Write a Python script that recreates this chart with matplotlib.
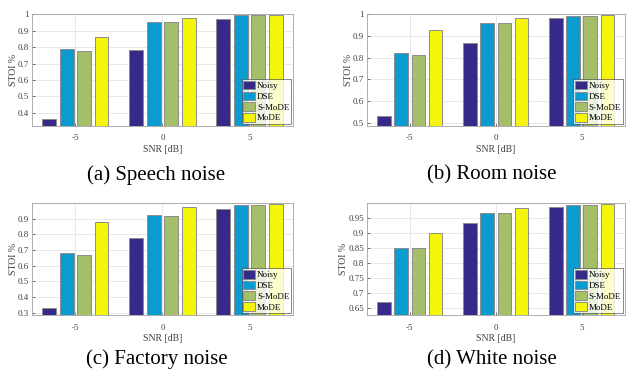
import matplotlib
matplotlib.use("Agg")
import matplotlib.pyplot as plt
from matplotlib.ticker import FuncFormatter

plt.rcParams['font.family'] = ['Liberation Serif', 'DejaVu Serif']

snr = ["-5", "0", "5"]
methods = ["Noisy", "DSE", "S-MoDE", "MoDE"]
colors = ["#352a87", "#0a9bd0", "#a5be6a", "#f5f50a"]

# STOI values per panel, one list per method (order: -5, 0, 5 dB)
speech = [[0.365, 0.785, 0.970],
          [0.790, 0.952, 0.992],
          [0.778, 0.951, 0.993],
          [0.860, 0.975, 0.994]]
room = [[0.530, 0.868, 0.982],
        [0.820, 0.958, 0.993],
        [0.810, 0.958, 0.993],
        [0.928, 0.982, 0.996]]
factory = [[0.330, 0.775, 0.965],
           [0.680, 0.922, 0.985],
           [0.665, 0.920, 0.985],
           [0.882, 0.978, 0.995]]
white = [[0.670, 0.933, 0.988],
         [0.850, 0.967, 0.992],
         [0.850, 0.967, 0.992],
         [0.900, 0.982, 0.996]]

panels = [
    (speech, "(a) Speech noise", (0.32, 1.0), [0.4, 0.5, 0.6, 0.7, 0.8, 0.9, 1.0]),
    (room, "(b) Room noise", (0.485, 1.0), [0.5, 0.6, 0.7, 0.8, 0.9, 1.0]),
    (factory, "(c) Factory noise", (0.283, 0.999), [0.3, 0.4, 0.5, 0.6, 0.7, 0.8, 0.9]),
    (white, "(d) White noise", (0.626, 0.999), [0.65, 0.7, 0.75, 0.8, 0.85, 0.9, 0.95]),
]

rects = [[0.051, 0.662, 0.417, 0.300],
         [0.586, 0.662, 0.412, 0.300],
         [0.051, 0.155, 0.417, 0.300],
         [0.586, 0.155, 0.412, 0.300]]
cap_pos = [(0.25, 0.505), (0.786, 0.505), (0.25, 0.01), (0.786, 0.01)]

fig = plt.figure(figsize=(6.26, 3.73), dpi=100)

x = [1, 2, 3]
offsets = [-0.3, -0.1, 0.1, 0.3]
for (data, cap, ylim, yt), r, cp in zip(panels, rects, cap_pos):
    ax = fig.add_axes(r)
    ax.set_axisbelow(True)
    ax.grid(True, color="#e4e4e4", linewidth=0.6)
    for i, m in enumerate(methods):
        ax.bar([xi + offsets[i] for xi in x], data[i], width=0.16,
               color=colors[i], edgecolor="#8c8c8c", linewidth=0.7, label=m)
    ax.set_xlim(0.5, 3.5)
    ax.set_ylim(*ylim)
    ax.set_xticks(x)
    ax.set_xticklabels(snr)
    ax.set_yticks(yt)
    ax.yaxis.set_major_formatter(FuncFormatter(lambda v, p: "%g" % round(v, 2)))
    ax.tick_params(direction="in", length=2, width=0.5, labelsize=6.5,
                   colors="#404040", pad=2)
    ax.tick_params(axis="x", pad=6)
    for s in ax.spines.values():
        s.set_color("#a0a0a0")
        s.set_linewidth(0.6)
    ax.set_xlabel("SNR [dB]", fontsize=7, color="#404040", labelpad=2)
    ax.set_ylabel("STOI %", fontsize=7, color="#404040", labelpad=0)
    leg = ax.legend(loc="lower right", fontsize=6.5, frameon=True, fancybox=False,
                    borderpad=0.2, labelspacing=0.15, handlelength=1.3,
                    handleheight=1.1, handletextpad=0.2, borderaxespad=0.2)
    leg.get_frame().set_edgecolor("#303030")
    leg.get_frame().set_linewidth(0.5)
    fig.text(cp[0], cp[1], cap, ha="center", va="bottom", fontsize=15)

fig.savefig("out.png", dpi=100)
